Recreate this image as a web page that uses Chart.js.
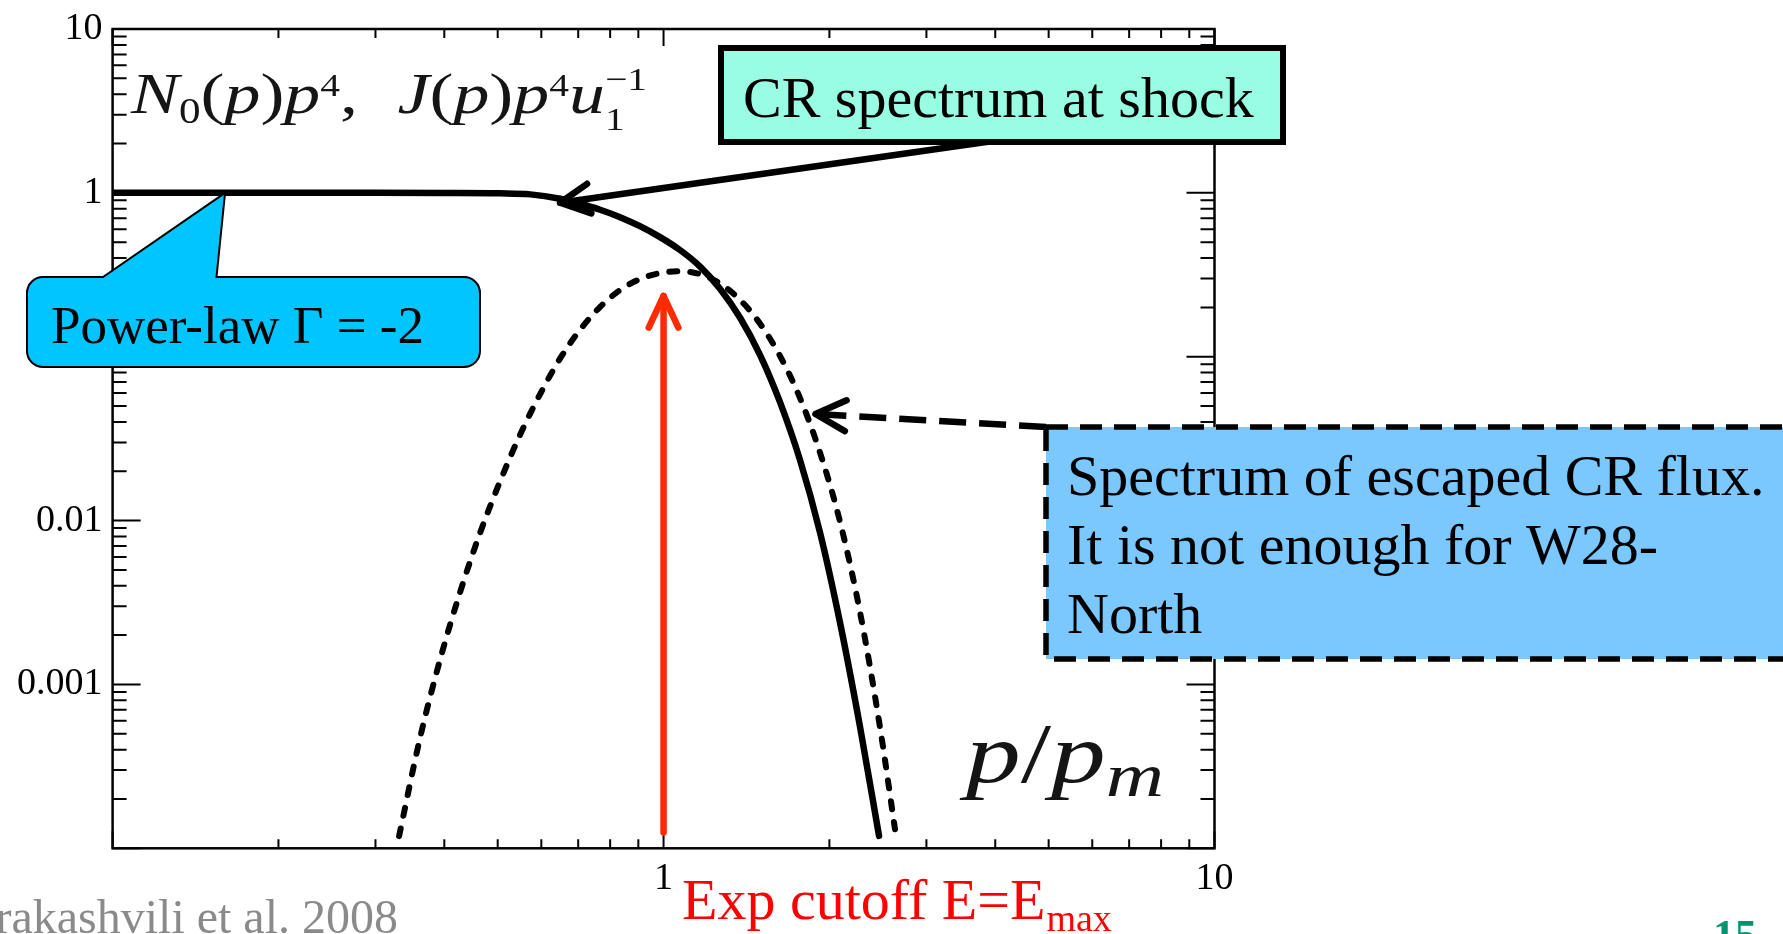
<!DOCTYPE html>
<html>
<head>
<meta charset="utf-8">
<title>CR spectrum at shock and escaped flux</title>
<script src="https://cdn.jsdelivr.net/npm/chart.js@4.4.0/dist/chart.umd.min.js"></script>
<style>
  html, body { margin: 0; padding: 0; background: #fff; overflow: hidden; }
  canvas { display: block; }
</style>
</head>
<body>
<canvas id="spectrum" width="1783" height="934"></canvas>
<script>
// p / p_m values and the two spectra
var shockP = [0.1, 0.2, 0.3, 0.4, 0.505, 0.573, 0.649, 0.7055, 0.767, 0.834, 0.906, 0.9855, 1.071, 1.165, 1.266, 1.377, 1.497, 1.627, 1.769, 1.923, 2.091, 2.273, 2.461];
var shockN = [1.0, 1.0, 1.0, 0.998, 0.993, 0.979, 0.92, 0.858, 0.789, 0.711, 0.626, 0.537, 0.448, 0.355, 0.26, 0.173, 0.1024, 0.0528, 0.0234, 0.00846, 0.00238, 0.000552, 0.000119];

var escP = [0.3311, 0.3614, 0.3929, 0.4272, 0.4645, 0.5051, 0.5491, 0.597, 0.6491, 0.7057, 0.7672, 0.8341, 0.9066, 0.9855, 1.0714, 1.165, 1.266, 1.377, 1.497, 1.627, 1.769, 1.923, 2.091, 2.273, 2.471, 2.631];
var escJ = [0.0001186, 0.000471, 0.001413, 0.00365, 0.00841, 0.01738, 0.03342, 0.05914, 0.0977, 0.1463, 0.2015, 0.2554, 0.2977, 0.3236, 0.3327, 0.3191, 0.2796, 0.2222, 0.159, 0.1011, 0.0559, 0.026, 0.00982, 0.00276, 0.000548, 0.0001306];

var xLabelTicks = [1, 10];
var yLabelTicks = [10, 1, 0.1, 0.01, 0.001];
var xDecades = [0.1, 1, 10];
var yDecades = [0.0001, 0.001, 0.01, 0.1, 1, 10];

var SERIF = '"Liberation Serif", "Times New Roman", serif';

function toPoints(xs, ys) {
    return xs.map(function (x, i) { return { x: x, y: ys[i] }; });
}

function drawArrow(ctx, x1, y1, x2, y2, o) {
    ctx.save();
    ctx.strokeStyle = o.color;
    ctx.lineWidth = o.width;
    ctx.lineCap = o.dash ? 'butt' : 'round';
    ctx.setLineDash(o.dash || []);
    ctx.beginPath();
    ctx.moveTo(x1, y1);
    ctx.lineTo(x2, y2);
    ctx.stroke();
    // open head
    var a = Math.atan2(y1 - y2, x1 - x2);
    var h = o.ang * Math.PI / 180;
    ctx.setLineDash([]);
    ctx.lineCap = 'round';
    ctx.lineJoin = 'round';
    ctx.beginPath();
    ctx.moveTo(x2 + o.len * Math.cos(a + h), y2 + o.len * Math.sin(a + h));
    ctx.lineTo(x2, y2);
    ctx.lineTo(x2 + o.len * Math.cos(a - h), y2 + o.len * Math.sin(a - h));
    ctx.stroke();
    ctx.restore();
}

// text made of runs (italic / roman, sub / superscripts), squeezed to a width
function drawRuns(ctx, runs, x0, y0, width, color) {
    var total = 0;
    runs.forEach(function (r) {
        if (r.gap) { r.w = r.gap; } else { ctx.font = r.f; r.w = ctx.measureText(r.t).width; }
        if (!r.stay) total += r.w;
    });
    var k = width / total;
    ctx.save();
    ctx.translate(x0, y0);
    ctx.scale(k, 1);
    ctx.fillStyle = color;
    ctx.textBaseline = 'alphabetic';
    ctx.textAlign = 'left';
    var x = 0;
    runs.forEach(function (r) {
        if (!r.gap) { ctx.font = r.f; ctx.fillText(r.t, x, r.dy || 0); }
        if (!r.stay) x += r.w;
    });
    ctx.restore();
}

function it(s) { return 'italic ' + s + 'px ' + SERIF; }
function rm(s) { return s + 'px ' + SERIF; }

var frameTicks = {
    id: 'frameTicks',
    afterDatasetsDraw: function (chart) {
        var ctx = chart.ctx, a = chart.chartArea, xs = chart.scales.x, ys = chart.scales.y;
        ctx.save();
        ctx.strokeStyle = '#000';
        ctx.lineWidth = 2;
        ctx.beginPath();
        yDecades.forEach(function (d) {
            for (var k = 1; k < 10; k++) {
                var v = d * k;
                if (v > ys.max * 1.001) continue;
                var y = ys.getPixelForValue(v);
                var len = k === 1 ? 28 : 14;
                ctx.moveTo(a.left, y); ctx.lineTo(a.left + len, y);
                ctx.moveTo(a.right, y); ctx.lineTo(a.right - len, y);
            }
        });
        xDecades.forEach(function (d) {
            for (var k = 1; k < 10; k++) {
                var v = d * k;
                if (v > xs.max * 1.001) continue;
                var x = xs.getPixelForValue(v);
                var len = k === 1 ? 17 : 9;
                ctx.moveTo(x, a.bottom); ctx.lineTo(x, a.bottom - len);
                ctx.moveTo(x, a.top); ctx.lineTo(x, a.top + len);
            }
        });
        ctx.stroke();
        ctx.lineWidth = 2.5;
        ctx.strokeRect(a.left, a.top, a.right - a.left, a.bottom - a.top);
        ctx.restore();
    }
};

var notes = {
    id: 'notes',
    afterDraw: function (chart) {
        var ctx = chart.ctx, xs = chart.scales.x, ys = chart.scales.y;
        function px(p) { return xs.getPixelForValue(p); }
        function py(v) { return ys.getPixelForValue(v); }
        ctx.save();

        // axis texts
        var S = 58;
        drawRuns(ctx, [
            { t: 'N', f: it(S) }, { t: '0', f: rm(S * 0.6), dy: S * 0.17 },
            { t: '(', f: rm(S) }, { t: 'p', f: it(S) }, { t: ')', f: rm(S) },
            { t: 'p', f: it(S) }, { t: '4', f: rm(S * 0.55), dy: -S * 0.3 },
            { t: ',', f: rm(S) }, { gap: S * 0.55 },
            { t: 'J', f: it(S) }, { t: '(', f: rm(S) }, { t: 'p', f: it(S) }, { t: ')', f: rm(S) },
            { t: 'p', f: it(S) }, { t: '4', f: rm(S * 0.55), dy: -S * 0.3 },
            { t: 'u', f: it(S) }, { t: '1', f: rm(S * 0.55), dy: S * 0.3, stay: true },
            { t: '\u22121', f: rm(S * 0.55), dy: -S * 0.4 }
        ], 131, 113, 516, '#151515');

        drawRuns(ctx, [
            { t: 'p', f: it(84) }, { t: '/', f: rm(84) }, { t: 'p', f: it(84) },
            { t: 'm', f: it(62), dy: 14 }
        ], 966, 782, 198, '#151515');

        // red cut-off arrow at p = p_m
        drawArrow(ctx, px(1), py(1.25e-4), px(1), py(0.235), { color: '#ff2a00', width: 6.5, len: 35, ang: 25 });

        // CR spectrum at shock
        drawArrow(ctx, 993, 141, px(0.649), py(0.87), { color: '#000', width: 6.5, len: 33, ang: 27 });
        ctx.fillStyle = '#98fde3';
        ctx.fillRect(721, 48, 562, 94);
        ctx.strokeStyle = '#000';
        ctx.lineWidth = 6;
        ctx.setLineDash([]);
        ctx.strokeRect(721, 48, 562, 94);
        ctx.fillStyle = '#000';
        ctx.font = rm(58);
        ctx.textAlign = 'left';
        ctx.textBaseline = 'alphabetic';
        ctx.fillText('CR spectrum at shock', 743, 117);

        // escaped flux
        drawArrow(ctx, 1046, 427, px(1.887), py(0.0447), { color: '#000', width: 6.5, len: 34, ang: 27, dash: [27, 13] });
        ctx.fillStyle = '#7ac8fe';
        ctx.fillRect(1046, 427, 800, 232);
        ctx.lineWidth = 5.5;
        ctx.setLineDash([22, 12]);
        ctx.strokeRect(1046, 427, 800, 232);
        ctx.setLineDash([]);
        ctx.fillStyle = '#000';
        ctx.font = rm(58);
        ctx.fillText('Spectrum of escaped CR flux.', 1067, 495);
        ctx.fillText('It is not enough for W28-', 1067, 564);
        ctx.fillText('North', 1067, 633);

        // power-law callout
        var bx = 27, by = 277, bw = 453, bh = 90, r = 16;
        var tx = px(0.16), ty = py(1);
        ctx.beginPath();
        ctx.moveTo(bx + r, by);
        ctx.lineTo(103, by);
        ctx.lineTo(tx, ty);
        ctx.lineTo(216.5, by);
        ctx.lineTo(bx + bw - r, by);
        ctx.arcTo(bx + bw, by, bx + bw, by + r, r);
        ctx.lineTo(bx + bw, by + bh - r);
        ctx.arcTo(bx + bw, by + bh, bx + bw - r, by + bh, r);
        ctx.lineTo(bx + r, by + bh);
        ctx.arcTo(bx, by + bh, bx, by + bh - r, r);
        ctx.lineTo(bx, by + r);
        ctx.arcTo(bx, by, bx + r, by, r);
        ctx.closePath();
        ctx.fillStyle = '#00c5ff';
        ctx.fill();
        ctx.lineWidth = 2;
        ctx.strokeStyle = '#000';
        ctx.stroke();
        ctx.fillStyle = '#000';
        ctx.font = rm(53);
        ctx.fillText('Power-law \u0393 = -2', 51, 343);

        // cutoff label
        ctx.fillStyle = '#ff0000';
        ctx.font = rm(58);
        ctx.fillText('Exp cutoff E=E', 682, 919);
        var w = ctx.measureText('Exp cutoff E=E').width;
        ctx.font = rm(38);
        ctx.fillText('max', 682 + w + 1, 931);

        // reference and slide number
        ctx.fillStyle = '#8a8a8a';
        ctx.font = rm(48);
        ctx.textAlign = 'right';
        ctx.fillText('Zirakashvili et al. 2008', 398, 933);
        ctx.textAlign = 'left';
        ctx.fillStyle = '#00956f';
        ctx.font = 'bold 44px ' + SERIF;
        ctx.fillText('15', 1713, 950);

        ctx.restore();
    }
};

var tickFont = { family: SERIF, size: 38, lineHeight: 1 };

new Chart(document.getElementById('spectrum').getContext('2d'), {
    type: 'scatter',
    data: {
        datasets: [
            {
                label: 'CR spectrum at shock',
                data: toPoints(shockP, shockN),
                showLine: true,
                borderColor: '#000',
                borderWidth: 6.5,
                borderCapStyle: 'round',
                pointRadius: 0,
                cubicInterpolationMode: 'monotone'
            },
            {
                label: 'Escaped CR flux',
                data: toPoints(escP, escJ),
                showLine: true,
                borderColor: '#000',
                borderWidth: 6,
                borderDash: [8, 13],
                borderCapStyle: 'round',
                pointRadius: 0,
                cubicInterpolationMode: 'monotone'
            }
        ]
    },
    options: {
        responsive: false,
        animation: false,
        events: [],
        layout: {
            padding: { left: 0, top: 22.7, right: 568.5, bottom: 0 }
        },
        scales: {
            x: {
                type: 'logarithmic',
                min: 0.1,
                max: 10,
                grid: { display: false, drawTicks: false },
                border: { display: false },
                afterBuildTicks: function (s) { s.ticks = xLabelTicks.map(function (v) { return { value: v }; }); },
                afterFit: function (s) { s.height = 85.7; },
                ticks: {
                    font: tickFont, color: '#000', padding: 12,
                    autoSkip: false, maxRotation: 0,
                    callback: function (v) { return String(v); }
                }
            },
            y: {
                type: 'logarithmic',
                min: 0.0001,
                max: 10,
                grid: { display: false, drawTicks: false },
                border: { display: false },
                afterBuildTicks: function (s) { s.ticks = yLabelTicks.map(function (v) { return { value: v }; }); },
                afterFit: function (s) { s.width = 112.6; },
                ticks: {
                    font: tickFont, color: '#000', padding: 10,
                    autoSkip: false,
                    callback: function (v) { return String(v); }
                }
            }
        },
        plugins: {
            legend: { display: false },
            tooltip: { enabled: false }
        }
    },
    plugins: [frameTicks, notes]
});
</script>
</body>
</html>
